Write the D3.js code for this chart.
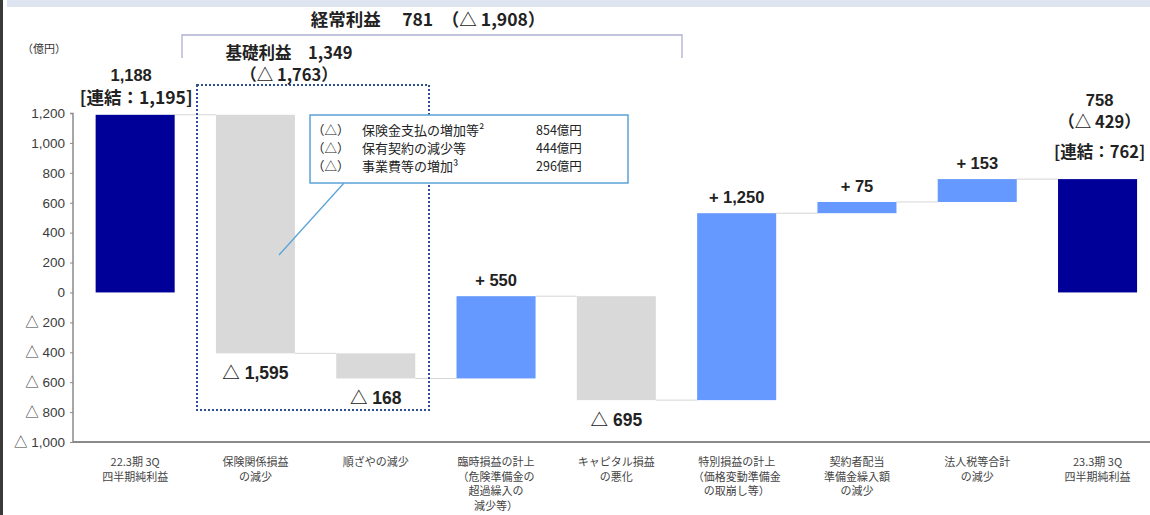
<!DOCTYPE html>
<html>
<head>
<meta charset="utf-8">
<script src="https://cdn.jsdelivr.net/npm/d3@7"></script>
<style>
  html, body { margin: 0; padding: 0; background: #fff; }
  svg { display: block; }
  text { font-family: "Liberation Sans", Arial, "Noto Sans CJK JP", sans-serif; }
  .jp { font-family: "Noto Sans CJK JP", "Liberation Sans", sans-serif; }
</style>
</head>
<body>
<svg id="chart" width="1150" height="515"></svg>
<script>
// Waterfall steps (億円): first and last are totals, the rest are changes
const categories = ["c1", "c2", "c3", "c4", "c5", "c6", "c7", "c8", "c9"];
const kinds = ["total", "down", "down", "up", "down", "up", "up", "up", "total"];
const values = [1188, -1595, -168, 550, -695, 1250, 75, 153, 758];
const valueLabels = ["1,188", "△ 1,595", "△ 168", "+ 550", "△ 695", "+ 1,250", "+ 75", "+ 153", "758"];
const categoryLines = [
  ["22.3期 3Q", "四半期純利益"],
  ["保険関係損益", "の減少"],
  ["順ざやの減少"],
  ["臨時損益の計上", "（危険準備金の", "超過繰入の", "減少等）"],
  ["キャピタル損益", "の悪化"],
  ["特別損益の計上", "（価格変動準備金", "の取崩し等）"],
  ["契約者配当", "準備金繰入額", "の減少"],
  ["法人税等合計", "の減少"],
  ["23.3期 3Q", "四半期純利益"]
];
const yTicks = [1200, 1000, 800, 600, 400, 200, 0, -200, -400, -600, -800, -1000];
const breakdownItems = ["保険金支払の増加等²", "保有契約の減少等", "事業費等の増加³"];
const breakdownAmounts = ["854億円", "444億円", "296億円"];

const colors = { total: "#000099", up: "#6699ff", down: "#d9d9d9" };

const svg = d3.select("#chart");

// page frame
svg.append("rect").attr("x", 7).attr("y", 0).attr("width", 1143).attr("height", 7).attr("fill", "#dfe4f1");
svg.append("rect").attr("x", 0).attr("y", 0).attr("width", 3).attr("height", 515).attr("fill", "#3a3a3a");

const x = d3.scaleBand().domain(categories).range([75, 1157.7]).paddingInner(0.343).paddingOuter(0.1715);
const y = d3.scaleLinear().domain([-1000, 1200]).range([442, 113]);

// running totals
let run = 0;
const steps = categories.map((c, i) => {
  let start, end;
  if (kinds[i] === "total") { start = 0; end = values[i]; run = values[i]; }
  else { start = run; end = run + values[i]; run = end; }
  return { c, i, kind: kinds[i], start, end, level: run };
});

// y axis
const fmt = d3.format(",");
const yAxis = d3.axisLeft(y).tickValues(yTicks).tickSize(3).tickPadding(5)
  .tickFormat(v => v < 0 ? "△ " + fmt(-v) : fmt(v));
const gy = svg.append("g").attr("transform", "translate(73,0)").call(yAxis);
gy.select(".domain").attr("stroke", "#8a8a8a").attr("stroke-width", 1.5).attr("d", "M-3,113.5H0V442");
gy.selectAll(".tick line").attr("stroke", "#8a8a8a");
gy.selectAll(".tick text").attr("fill", "#3c3c3c").attr("font-size", 13.5);

// x baseline
svg.append("line").attr("x1", 73).attr("x2", 1150).attr("y1", 442).attr("y2", 442)
  .attr("stroke", "#8a8a8a").attr("stroke-width", 2);

// connectors
svg.append("g").selectAll("line").data(steps.slice(0, -1)).join("line")
  .attr("x1", d => x(d.c) + x.bandwidth())
  .attr("x2", d => x(categories[d.i + 1]))
  .attr("y1", d => y(d.level)).attr("y2", d => y(d.level))
  .attr("stroke", "#d6d6d6").attr("stroke-width", 1);

// bars
svg.append("g").selectAll("rect").data(steps).join("rect")
  .attr("x", d => x(d.c)).attr("width", x.bandwidth())
  .attr("y", d => y(Math.max(d.start, d.end)))
  .attr("height", d => Math.abs(y(d.start) - y(d.end)))
  .attr("fill", d => colors[d.kind]);

// value labels
const labG = svg.append("g").attr("font-weight", "bold").attr("fill", "#222").attr("text-anchor", "middle");
steps.forEach(d => {
  const cx = x(d.c) + x.bandwidth() / 2;
  if (d.kind === "up") {
    labG.append("text").attr("x", cx).attr("y", y(d.end) - 10).attr("font-size", 16.5).text(valueLabels[d.i]);
  } else if (d.kind === "down") {
    labG.append("text").attr("x", cx).attr("y", y(d.end) + 26).attr("font-size", 17.5).text(valueLabels[d.i]);
  }
});

// totals annotations
const c1 = x(categories[0]) + x.bandwidth() / 2;
const c9 = x(categories[8]) + x.bandwidth() / 2;
labG.append("text").attr("x", c1 - 4).attr("y", 81).attr("font-size", 16.5).text(valueLabels[0]);
labG.append("text").attr("x", c1 + 1).attr("y", 104).attr("font-size", 17.5).attr("class", "jp").text("[連結：1,195]");
labG.append("text").attr("x", c9 + 2).attr("y", 106).attr("font-size", 16.5).text(valueLabels[8]);
labG.append("text").attr("x", c9 + 2).attr("y", 128).attr("font-size", 16.5).attr("class", "jp").text("（△ 429）");
labG.append("text").attr("x", c9 + 2).attr("y", 158).attr("font-size", 16.5).attr("class", "jp").text("[連結：762]");

// unit
svg.append("text").attr("x", 22).attr("y", 53).attr("font-size", 11).attr("class", "jp").attr("fill", "#333").text("（億円）");

// ordinary profit bracket
svg.append("path").attr("d", "M182,58V35H682V58").attr("fill", "none").attr("stroke", "#aeb0d2").attr("stroke-width", 1.3);
svg.append("text").attr("x", 428).attr("y", 26).attr("text-anchor", "middle").attr("font-size", 17.5)
  .attr("font-weight", "bold").attr("class", "jp").attr("fill", "#222").attr("xml:space", "preserve")
  .text("経常利益　 781　（△ 1,908）");

// core profit box
svg.append("rect").attr("x", 197).attr("y", 85).attr("width", 232).attr("height", 325)
  .attr("fill", "none").attr("stroke", "#2f4f8f").attr("stroke-width", 2).attr("stroke-dasharray", "2,2");
svg.append("text").attr("x", 289).attr("y", 59).attr("text-anchor", "middle").attr("font-size", 16.5)
  .attr("font-weight", "bold").attr("class", "jp").attr("fill", "#222").text("基礎利益　1,349");
svg.append("text").attr("x", 289).attr("y", 81).attr("text-anchor", "middle").attr("font-size", 16.5)
  .attr("font-weight", "bold").attr("class", "jp").attr("fill", "#222").text("（△ 1,763）");

// breakdown callout
svg.append("line").attr("x1", 344).attr("y1", 183).attr("x2", 279).attr("y2", 255)
  .attr("stroke", "#5ba3d8").attr("stroke-width", 1.3);
svg.append("rect").attr("x", 310).attr("y", 115).attr("width", 318).attr("height", 68)
  .attr("fill", "#fff").attr("stroke", "#5ba3d8").attr("stroke-width", 1.5);
const cg = svg.append("g").attr("font-size", 12.5).attr("fill", "#222");
breakdownItems.forEach((t, i) => {
  const yy = 135 + i * 18;
  cg.append("text").attr("x", 312).attr("y", yy).attr("class", "jp").text("（△）");
  cg.append("text").attr("x", 362).attr("y", yy).attr("class", "jp").attr("font-size", 13).text(t);
  cg.append("text").attr("x", 536).attr("y", yy).attr("class", "jp").text(breakdownAmounts[i]);
});

// category labels
const xl = svg.append("g").attr("text-anchor", "middle").attr("font-size", 11).attr("fill", "#444");
steps.forEach(d => {
  const cx = x(d.c) + x.bandwidth() / 2;
  categoryLines[d.i].forEach((line, j) => {
    xl.append("text").attr("class", "jp").attr("x", cx).attr("y", 466 + j * 14.5).text(line);
  });
});
</script>
</body>
</html>
